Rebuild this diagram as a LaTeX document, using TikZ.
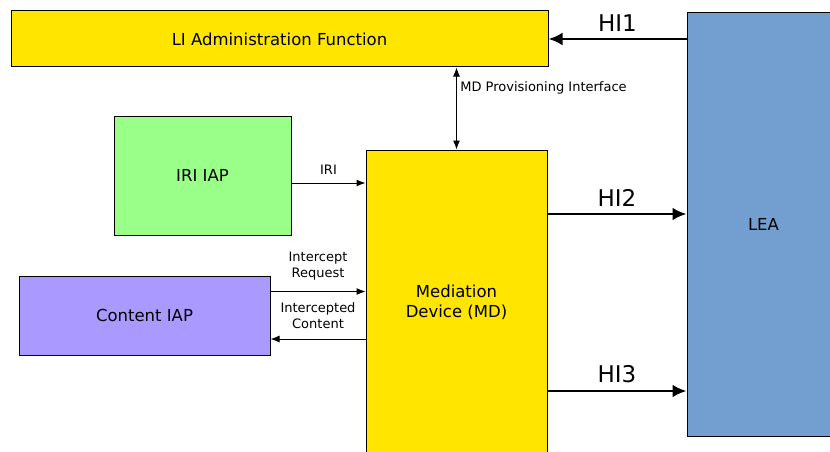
\documentclass[tikz,border=0pt]{standalone}
\usepackage{fontspec}
\setmainfont{DejaVu Sans}
\usetikzlibrary{arrows.meta}
\usetikzlibrary{positioning}
\definecolor{mdyellow}{HTML}{FFE500}
\definecolor{iapgreen}{HTML}{99FF88}
\definecolor{iappurple}{HTML}{AA99FF}
\definecolor{leablue}{HTML}{729FCF}
\tikzset{%
  box/.style={draw, line width=1pt, rectangle, inner sep=0pt, font=\fontsize{16.5}{20}\selectfont, align=center},%
  lbl/.style={font=\fontsize{13}{16}\selectfont, align=center},%
  hilbl/.style={font=\fontsize{23}{26}\selectfont},%
  ifline/.style={line width=1pt, >={Latex[length=9pt,width=7pt]}},%
  hiline/.style={line width=2.8pt, >={Latex[length=14pt,width=13pt]}},%
}

\begin{document}
\begin{tikzpicture}[x=1pt,y=1pt]
\useasboundingbox (0,0) rectangle (830,451);
\clip (0,0) rectangle (830,451);
% boxes
\node[box, fill=mdyellow, minimum width=537pt, minimum height=56pt] (admin) at (279.5,412) {LI Administration Function};
\node[box, fill=iapgreen, minimum width=177pt, minimum height=119pt] (iri) at (202.5,275.5) {IRI IAP};
\node[box, fill=iappurple, minimum width=251pt, minimum height=79pt] (content) at (144.5,135.5) {Content IAP};
\node[box, fill=mdyellow, minimum width=181pt, minimum height=304pt] (md) at (456.5,149) {Mediation\\Device (MD)};
\node[box, fill=leablue, minimum width=153pt, minimum height=423pt] (lea) at (763.5,226.5) {LEA};
% end points on the box sides
\coordinate (hi2) at ([yshift=88pt]md.east);
\coordinate (hi3) at ([yshift=-89pt]md.east);
\coordinate (irio) at ([yshift=-7.5pt]iri.east);
\coordinate (reqo) at ([yshift=24pt]content.east);
\coordinate (cci) at ([yshift=-23.5pt]content.east);
% handover interfaces
\draw[hiline, ->] (lea.west |- admin.east) -- node[above=3pt, hilbl] {HI1} (admin.east);
\draw[hiline, ->] (hi2) -- node[above=3pt, hilbl] {HI2} (lea.west |- hi2);
\draw[hiline, ->] (hi3) -- node[above=3pt, hilbl] {HI3} (lea.west |- hi3);
% internal interfaces
\draw[ifline, <->] (md.north |- admin.south) -- node[pos=0.25, right, lbl] {MD Provisioning Interface} (md.north);
\draw[ifline, ->] (irio) -- node[above=5pt, lbl] {IRI} (md.west |- irio);
\draw[ifline, ->] (reqo) -- node[above=7pt, lbl] {Intercept\\Request} (md.west |- reqo);
\draw[ifline, ->] (md.west |- cci) -- node[above=6pt, lbl] {Intercepted\\Content} (cci);
\end{tikzpicture}
\end{document}
